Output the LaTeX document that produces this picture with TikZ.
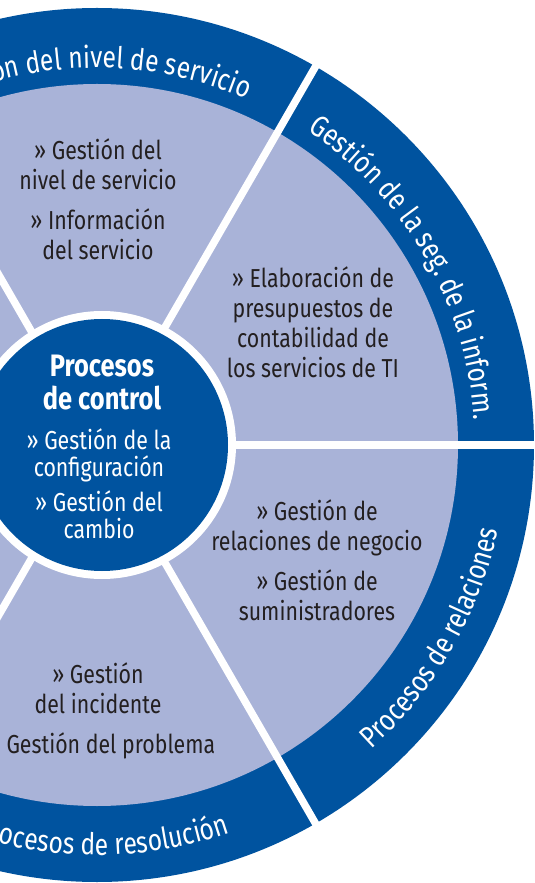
\documentclass[tikz,border=0pt]{standalone}
\usepackage{fontspec}
\setmainfont{Fira Sans}[FakeStretch=0.82]
\usepackage{tikz}
\usetikzlibrary{decorations.text}
\definecolor{ringblue}{RGB}{0,83,159}
\definecolor{paleblue}{RGB}{169,179,216}
\definecolor{textdark}{RGB}{35,31,32}
\tikzstyle{segtext} = [align=center, anchor=base, text=textdark, font=\fontsize{26}{30}\selectfont]
\tikzstyle{hubtext} = [align=center, anchor=base, text=white, font=\fontsize{26}{26.5}\selectfont]
\tikzstyle{divider} = [draw=white, line width=7.5pt]
\tikzstyle{ringlabel} = [decorate, decoration={text along path, text color=white}]
\newcommand{\ringfont}{\fontsize{30}{30}\selectfont}

\begin{document}
\begin{tikzpicture}[x=1pt, y=1pt]
    \useasboundingbox (-97,-438) rectangle (438,445);
    \clip (-97,-438) rectangle (438,445);
    \fill[ringblue] (0,0) circle (437);
    \fill[paleblue] (0,0) circle (361);
    \foreach \a in {0,60,...,300}
        \draw[divider] (0,0) -- (\a:440);
    \fill[white] (5,0) circle (134);
    \fill[ringblue] (5,0) circle (126);

    \node[hubtext, font=\bfseries\fontsize{31}{33}\selectfont] (title) at (5,35) {Procesos\\de control};
    \node[hubtext] (control) at (2,-93) {» Gestión de la\\configuración\\[9pt]» Gestión del\\cambio};

    \node[segtext] (nivel) at (1,185) {» Gestión del\\nivel de servicio\\[10pt]» Información\\del servicio};
    \node[segtext] (costes) at (216,67) {» Elaboración de\\presupuestos de\\contabilidad de\\los servicios de TI};
    \node[segtext] (relac) at (220,-175) {» Gestión de\\relaciones de negocio\\[10pt]» Gestión de\\suministradores};
    \node[segtext] (incid) at (1,-268) {» Gestión\\del incidente};
    \node[segtext, anchor=base west] (probl) at (-94,-308) {Gestión del problema};

    \path[ringlabel, decoration={text={|\ringfont|ón del nivel de servicio}}]
        (106:377) arc[start angle=106, end angle=40, radius=377];
    \path[ringlabel, decoration={text align=center, text={|\ringfont|Gestión de la seg. de la inform.}}]
        (62:378) arc[start angle=62, end angle=-2, radius=378];
    \path[ringlabel, decoration={text align=center, text={|\ringfont|Procesos de relaciones}}]
        (-62:410) arc[start angle=-62, end angle=2, radius=410];
    \path[ringlabel, decoration={text={|\ringfont|ocesos de resolución}}]
        (256:410) arc[start angle=256, end angle=300, radius=410];
\end{tikzpicture}
\end{document}
